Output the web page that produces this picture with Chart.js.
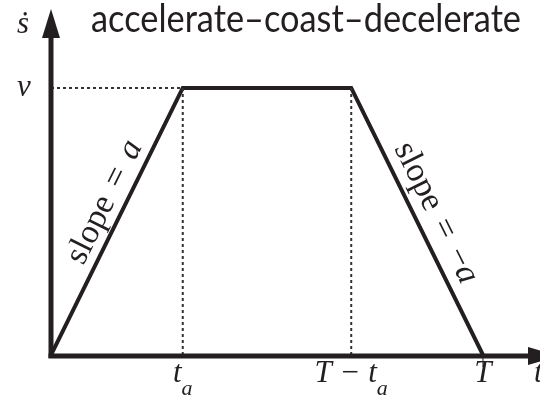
<!DOCTYPE html>
<html>
<head>
<meta charset="utf-8">
<script src="https://cdn.jsdelivr.net/npm/chart.js@4.4.1/dist/chart.umd.min.js"></script>
<style>
  html, body { margin: 0; padding: 0; background: #fff; overflow: hidden; }
  #wrap { width: 540px; height: 402px; }
</style>
</head>
<body>
<div id="wrap"><canvas id="profile" width="540" height="402"></canvas></div>
<script>
// trapezoidal velocity profile: accelerate, coast, decelerate
const times  = [0, 3.05, 6.95, 10];
const speeds = [0, 1, 1, 0];

const tickTimes  = [3.05, 6.95, 10];
const tickLabels = ['t_a', 'T − t_a', 'T'];
const speedTicks  = [1];
const speedLabels = ['v'];

const titleText = 'accelerate–coast–decelerate';
const xAxisName = 't';
const yAxisName = 'ṡ';

const INK = '#231f20';
const MATH_FONT  = 'italic 31px "Liberation Serif"';
const SUB_FONT   = 'italic 22px "Liberation Serif"';
const SLOPE_FONT = '34px "Liberation Serif"';
const SLOPE_MATH = 'italic 34px "Liberation Serif"';
const TITLE_FONT = '38px Lato';
const FACES = [MATH_FONT, SUB_FONT, SLOPE_FONT, SLOPE_MATH];

// draw each face once off-canvas before any measuring, so lookups settle on it
const chartCtx = document.getElementById('profile').getContext('2d');
const meter = document.createElement('canvas').getContext('2d');
FACES.forEach(f => {
  chartCtx.font = f;
  chartCtx.fillText('slope ṡ', -500, -500);
  meter.font = f;
  meter.fillText('slope ṡ', -500, -500);
});

function textWidth(font, s) {
  meter.font = font;
  return meter.measureText(s).width;
}

// "t_a" style labels: base text plus a lowered subscript
function mathText(ctx, str, x, y, align) {
  const parts = str.split('_');
  const w0 = textWidth(MATH_FONT, parts[0]);
  const w1 = parts[1] ? textWidth(SUB_FONT, parts[1]) : 0;
  const x0 = align === 'center' ? x - (w0 + w1) / 2 : x;
  ctx.textAlign = 'left';
  ctx.textBaseline = 'alphabetic';
  ctx.font = MATH_FONT;
  ctx.fillText(parts[0], x0, y);
  if (parts[1]) {
    ctx.font = SUB_FONT;
    ctx.fillText(parts[1], x0 + w0, y + 13);
  }
}

// "slope = a" written along a ramp, centred on (x, y)
function slopeLabel(ctx, x, y, angle, sym) {
  const gap = 13;
  const wWord = textWidth(SLOPE_FONT, 'slope');
  const wEq = textWidth(SLOPE_FONT, '=');
  const wMinus = sym.neg ? textWidth(SLOPE_FONT, '−') : 0;
  const wSym = textWidth(SLOPE_MATH, sym.name);
  const total = wWord + gap + wEq + gap + wMinus + wSym;
  let cx = -total / 2;

  ctx.save();
  ctx.translate(x, y);
  ctx.rotate(angle);
  ctx.textAlign = 'left';
  ctx.textBaseline = 'alphabetic';
  ctx.font = SLOPE_FONT;
  ctx.fillText('slope', cx, 0);
  cx += wWord + gap;
  ctx.fillText('=', cx, 0);
  cx += wEq + gap;
  if (sym.neg) {
    ctx.fillText('−', cx, 0);
    cx += wMinus;
  }
  ctx.font = SLOPE_MATH;
  ctx.fillText(sym.name, cx, 0);
  ctx.restore();
}

const axesPlugin = {
  id: 'axesPlugin',
  afterDatasetsDraw(chart) {
    const ctx = chart.ctx;
    const xs = chart.scales.x, ys = chart.scales.y;
    const ox = xs.getPixelForValue(0);
    const oy = ys.getPixelForValue(0);
    const top = chart.chartArea.top;
    const right = chart.chartArea.right;

    ctx.save();
    ctx.strokeStyle = INK;
    ctx.fillStyle = INK;
    ctx.lineWidth = 5;
    ctx.lineCap = 'butt';

    // vertical axis with arrow
    ctx.beginPath();
    ctx.moveTo(ox, oy + 3);
    ctx.lineTo(ox, top + 26);
    ctx.stroke();
    ctx.beginPath();
    ctx.moveTo(ox, top - 1);
    ctx.lineTo(ox - 9, top + 28);
    ctx.lineTo(ox + 9, top + 28);
    ctx.closePath();
    ctx.fill();

    // horizontal axis with arrow (tip runs past the edge)
    ctx.beginPath();
    ctx.moveTo(ox - 2.5, oy + 1);
    ctx.lineTo(right - 10, oy + 1);
    ctx.stroke();
    ctx.beginPath();
    ctx.moveTo(right + 18, oy + 1);
    ctx.lineTo(right - 12, oy - 8);
    ctx.lineTo(right - 12, oy + 10);
    ctx.closePath();
    ctx.fill();

    // little tick under T
    const tx = xs.getPixelForValue(tickTimes[2]);
    ctx.lineWidth = 1;
    ctx.beginPath();
    ctx.moveTo(tx, oy + 3);
    ctx.lineTo(tx, oy + 12);
    ctx.stroke();

    // tick labels
    tickTimes.forEach((t, i) => {
      mathText(ctx, tickLabels[i], xs.getPixelForValue(t), oy + 27, 'center');
    });
    speedTicks.forEach((s, i) => {
      mathText(ctx, speedLabels[i], 24, ys.getPixelForValue(s) + 8, 'center');
    });
    mathText(ctx, xAxisName, right - 6, oy + 27, 'left');
    mathText(ctx, yAxisName, 23, top + 23, 'center');

    // slope annotations along the ramps
    const p1 = { x: xs.getPixelForValue(times[1]), y: ys.getPixelForValue(speeds[1]) };
    const p2 = { x: xs.getPixelForValue(times[2]), y: ys.getPixelForValue(speeds[2]) };
    const p3 = { x: xs.getPixelForValue(times[3]), y: ys.getPixelForValue(speeds[3]) };
    const aUp = Math.atan2(p1.y - oy, p1.x - ox);
    const aDown = Math.atan2(p3.y - p2.y, p3.x - p2.x);
    slopeLabel(ctx, 113, 206, aUp, { name: 'a', neg: false });
    slopeLabel(ctx, 428, 217, aDown, { name: 'a', neg: true });

    // title, squeezed to the width of the heading
    ctx.font = TITLE_FONT;
    ctx.textAlign = 'left';
    ctx.textBaseline = 'alphabetic';
    ctx.fillText(titleText, 91, top + 22, 430);

    ctx.restore();
  }
};

const guideStyle = {
  borderColor: '#333',
  borderWidth: 2,
  borderDash: [3, 3],
  pointRadius: 0,
  fill: false
};

new Chart(document.getElementById('profile'), {
  type: 'line',
  data: {
    datasets: [
      Object.assign({ data: [{ x: 0, y: speeds[1] }, { x: times[1], y: speeds[1] }] }, guideStyle),
      Object.assign({ data: [{ x: times[1], y: 0 }, { x: times[1], y: speeds[1] }] }, guideStyle),
      Object.assign({ data: [{ x: times[2], y: 0 }, { x: times[2], y: speeds[2] }] }, guideStyle),
      {
        data: times.map((t, i) => ({ x: t, y: speeds[i] })),
        borderColor: INK,
        borderWidth: 4,
        borderJoinStyle: 'miter',
        pointRadius: 0,
        tension: 0,
        fill: false
      }
    ]
  },
  options: {
    responsive: false,
    animation: false,
    layout: { padding: { left: 51, right: 0, top: 10, bottom: 47 } },
    scales: {
      x: { type: 'linear', min: 0, max: 11.32, display: false },
      y: { type: 'linear', min: 0, max: 1.292, display: false }
    },
    plugins: {
      legend: { display: false },
      tooltip: { enabled: false }
    }
  },
  plugins: [axesPlugin]
});
</script>
</body>
</html>
